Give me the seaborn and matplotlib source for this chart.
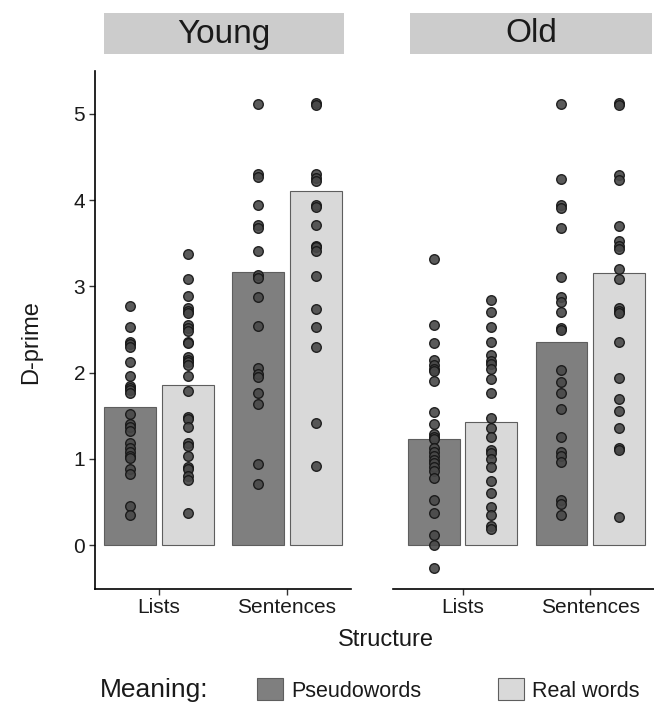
import numpy as np
import pandas as pd
import seaborn as sns
import matplotlib
matplotlib.use("Agg")
import matplotlib.pyplot as plt
from matplotlib.patches import Rectangle

sns.set_theme(style="white")
plt.rcParams['font.family'] = ['Liberation Sans', 'DejaVu Sans']

# ---------------- data ----------------
ages = ["Young", "Old"]
structures = ["Lists", "Sentences"]
meanings = ["Pseudowords", "Real words"]

# bar heights (group means)
young_mean_pseudo = [1.60, 3.17]
young_mean_real = [1.86, 4.10]
old_mean_pseudo = [1.23, 2.35]
old_mean_real = [1.43, 3.15]

# individual participants
young_lists_pseudo = [2.77, 2.53, 2.36, 2.33, 2.30, 2.12, 1.96, 1.85, 1.82, 1.80, 1.77, 1.52,
                      1.41, 1.37, 1.33, 1.18, 1.13, 1.08, 1.04, 1.01, 0.88, 0.83, 0.46, 0.35]
young_lists_real = [3.37, 3.09, 2.89, 2.75, 2.72, 2.69, 2.55, 2.52, 2.48, 2.35, 2.34, 2.18, 2.15,
                    2.12, 2.09, 1.96, 1.79, 1.49, 1.46, 1.37, 1.18, 1.15, 1.04, 0.91, 0.88, 0.80,
                    0.76, 0.38]
young_sent_pseudo = [5.11, 4.30, 4.27, 3.94, 3.71, 3.67, 3.41, 3.13, 3.10, 2.88, 2.54, 2.05,
                     1.99, 1.95, 1.77, 1.64, 0.94, 0.71]
young_sent_real = [5.12, 5.10, 4.30, 4.26, 4.22, 3.94, 3.92, 3.71, 3.47, 3.45, 3.41, 3.12,
                   2.74, 2.53, 2.30, 1.42, 0.92]
old_lists_pseudo = [3.32, 2.55, 2.34, 2.15, 2.09, 2.04, 2.02, 1.90, 1.55, 1.40, 1.29, 1.26,
                    1.23, 1.13, 1.08, 1.04, 0.99, 0.95, 0.91, 0.86, 0.78, 0.53, 0.38, 0.12,
                    0.00, -0.26]
old_lists_real = [2.84, 2.70, 2.53, 2.36, 2.20, 2.14, 2.10, 2.04, 1.93, 1.76, 1.47, 1.36, 1.25,
                  1.11, 1.07, 1.00, 0.91, 0.75, 0.61, 0.44, 0.35, 0.22, 0.19]
old_sent_pseudo = [5.11, 4.24, 3.94, 3.91, 3.67, 3.11, 2.88, 2.82, 2.70, 2.52, 2.49, 2.03,
                   1.89, 1.77, 1.58, 1.26, 1.08, 1.04, 0.96, 0.52, 0.48, 0.35]
old_sent_real = [5.12, 5.10, 4.29, 4.23, 3.70, 3.53, 3.47, 3.43, 3.20, 3.09, 2.75, 2.72, 2.69,
                 2.35, 1.94, 1.69, 1.56, 1.36, 1.13, 1.10, 0.33]

y_ticks = [0, 1, 2, 3, 4, 5]

# ---------------- tables ----------------
bar_rows = []
for age, mp, mr in [("Young", young_mean_pseudo, young_mean_real),
                    ("Old", old_mean_pseudo, old_mean_real)]:
    for s, vp, vr in zip(structures, mp, mr):
        bar_rows.append((age, s, "Pseudowords", vp))
        bar_rows.append((age, s, "Real words", vr))
bars = pd.DataFrame(bar_rows, columns=["Age", "Structure", "Meaning", "dprime"])

pt_groups = [
    ("Young", "Lists", "Pseudowords", young_lists_pseudo),
    ("Young", "Lists", "Real words", young_lists_real),
    ("Young", "Sentences", "Pseudowords", young_sent_pseudo),
    ("Young", "Sentences", "Real words", young_sent_real),
    ("Old", "Lists", "Pseudowords", old_lists_pseudo),
    ("Old", "Lists", "Real words", old_lists_real),
    ("Old", "Sentences", "Pseudowords", old_sent_pseudo),
    ("Old", "Sentences", "Real words", old_sent_real),
]
pt_rows = []
for age, s, m, vals in pt_groups:
    for v in vals:
        pt_rows.append((age, s, m, v))
points = pd.DataFrame(pt_rows, columns=["Age", "Structure", "Meaning", "dprime"])
dodge = {"Pseudowords": -0.225, "Real words": 0.225}
points["xpos"] = points["Structure"].map({s: i for i, s in enumerate(structures)}) + \
    points["Meaning"].map(dodge)

# ---------------- figure ----------------
W, H = 654, 713
fig = plt.figure(figsize=(W / 100, H / 100), dpi=100)

def fx(px):
    return px / W

def fy(py):
    return 1 - py / H

ax_top, ax_bot = 70.5, 588.5
panels = {"Young": (95, 351), "Old": (393, 654)}
xlims = {"Young": (-0.5, 1.5), "Old": (-0.545, 1.5)}
strips = {"Young": (104, 344), "Old": (410, 652)}

palette = {"Pseudowords": "#7f7f7f", "Real words": "#d9d9d9"}
axes = []
for i, age in enumerate(ages):
    l, r = panels[age]
    ax = fig.add_axes([fx(l), fy(ax_bot), (r - l) / W, (ax_bot - ax_top) / H])
    axes.append(ax)
    sns.barplot(data=bars[bars["Age"] == age], x="Structure", y="dprime", hue="Meaning",
                order=structures, hue_order=meanings, palette=palette, width=0.9, gap=0.1,
                edgecolor="#5e5e5e", linewidth=0.8, errorbar=None, ax=ax, legend=(i == 0),
                zorder=2)
    sns.scatterplot(data=points[points["Age"] == age], x="xpos", y="dprime",
                    color="#484848", edgecolor="#151515", linewidth=1.0, s=48, alpha=0.9,
                    ax=ax, zorder=3, legend=False)
    ax.set_xlim(*xlims[age])
    ax.set_ylim(-0.5, 5.5)
    ax.set_xticks([0, 1])
    ax.set_xticklabels(structures)
    ax.set_yticks(y_ticks)
    ax.set_xlabel("")
    ax.set_ylabel("")
    ax.grid(False)
    for sp in ["top", "right"]:
        ax.spines[sp].set_visible(False)
    ax.spines["bottom"].set_color("black")
    ax.spines["bottom"].set_linewidth(1.2)
    ax.spines["left"].set_color("black")
    ax.spines["left"].set_linewidth(1.2)
    ax.tick_params(axis="both", which="major", length=4, width=1.0, color="#333333",
                   labelsize=15, labelcolor="#1a1a1a", direction="out", pad=3,
                   bottom=True, left=True)
    if i == 1:
        ax.spines["left"].set_visible(False)
        ax.tick_params(axis="y", left=False, labelleft=False)
    # strip
    sl, sr = strips[age]
    fig.add_artist(Rectangle((fx(sl), fy(54)), (sr - sl) / W, (54 - 13) / H,
                             transform=fig.transFigure, facecolor="#cccccc",
                             edgecolor="none"))
    fig.text(fx((sl + sr) / 2), fy(34), age, fontsize=24, ha="center", va="center",
             color="#1a1a1a")

handles, labels = axes[0].get_legend_handles_labels()
if axes[0].get_legend() is not None:
    axes[0].get_legend().remove()

fig.text(fx(31), fy(342), "D-prime", rotation=90, fontsize=17, ha="center", va="center",
         color="#1a1a1a")
fig.text(fx(386), fy(640), "Structure", fontsize=17, ha="center", va="center",
         color="#1a1a1a")
fig.text(fx(100), fy(690), "Meaning:", fontsize=19, ha="left", va="center",
         color="#1a1a1a")
fig.legend(handles, labels, loc="center left", bbox_to_anchor=(fx(257), fy(690)), ncol=2,
           frameon=False, fontsize=15.5, handlelength=1.2, handleheight=1.2,
           handletextpad=0.4, columnspacing=3.55, borderpad=0, borderaxespad=0,
           labelcolor="#1a1a1a")

fig.savefig("out.png", dpi=100)
